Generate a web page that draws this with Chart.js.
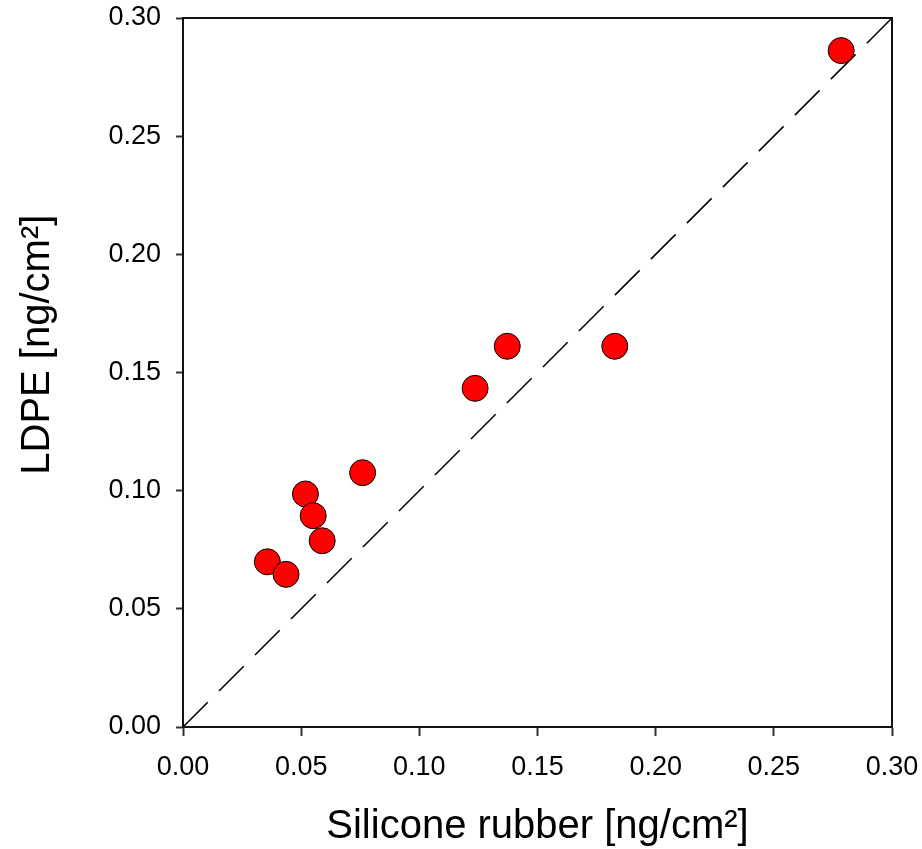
<!DOCTYPE html>
<html>
<head>
<meta charset="utf-8">
<script src="https://cdn.jsdelivr.net/npm/chart.js@4.4.0/dist/chart.umd.min.js"></script>
<style>
  html, body { margin: 0; padding: 0; background: #fff; }
  #wrap { width: 922px; height: 849px; }
</style>
</head>
<body>
<div id="wrap"><canvas id="scatterChart" width="922" height="849"></canvas></div>
<script>
// Data
const siliconeRubber = [0.2785, 0.1372, 0.1827, 0.1236, 0.0760, 0.0518, 0.0551, 0.0589, 0.0357, 0.0436];
const ldpe = [0.2862, 0.1611, 0.1611, 0.1433, 0.1076, 0.0986, 0.0894, 0.0788, 0.0699, 0.0646];

// 1:1 reference line
const lineX = [0, 0.30];
const lineY = [0, 0.30];

// Axis range and ticks
const axisMin = 0;
const axisMax = 0.30;
const tickStep = 0.05;

const FONT = "'Liberation Sans', Arial, sans-serif";

// Draws the box round the plot area (top and right sides)
const framePlugin = {
    id: 'frame',
    afterDraw(chart) {
        const { ctx, chartArea } = chart;
        ctx.save();
        ctx.strokeStyle = '#111';
        ctx.lineWidth = 2;
        ctx.strokeRect(chartArea.left, chartArea.top,
            chartArea.right - chartArea.left, chartArea.bottom - chartArea.top);
        ctx.restore();
    }
};

const ctx = document.getElementById('scatterChart').getContext('2d');
new Chart(ctx, {
    type: 'scatter',
    data: {
        datasets: [
            {
                label: 'Samples',
                data: siliconeRubber.map((x, i) => ({ x: x, y: ldpe[i] })),
                backgroundColor: '#ff0000',
                borderColor: '#000',
                borderWidth: 1,
                pointRadius: 13,
                pointHoverRadius: 13
            },
            {
                type: 'line',
                label: '1:1',
                data: lineX.map((x, i) => ({ x: x, y: lineY[i] })),
                borderColor: '#000',
                borderWidth: 1.5,
                borderDash: [35, 15.9],
                pointRadius: 0,
                fill: false
            }
        ]
    },
    options: {
        responsive: false,
        animation: false,
        layout: { padding: { top: 18, right: 30, left: 0, bottom: 0 } },
        plugins: {
            legend: { display: false },
            tooltip: { enabled: false }
        },
        scales: {
            x: {
                type: 'linear',
                min: axisMin,
                max: axisMax,
                afterFit: (scale) => {
                    scale.height = 122;
                    scale.paddingLeft = 0;
                    scale.paddingRight = 0;
                },
                ticks: {
                    stepSize: tickStep,
                    padding: 15,
                    color: '#000',
                    font: { family: FONT, size: 27 },
                    callback: (v) => v.toFixed(2)
                },
                grid: {
                    drawOnChartArea: false,
                    drawTicks: true,
                    tickLength: 9,
                    tickWidth: 2,
                    tickColor: '#333'
                },
                border: { display: true, color: '#111', width: 2 },
                title: {
                    display: true,
                    text: 'Silicone rubber [ng/cm²]',
                    color: '#000',
                    font: { family: FONT, size: 40, lineHeight: 1 },
                    padding: { top: 0, bottom: 2 }
                }
            },
            y: {
                type: 'linear',
                min: axisMin,
                max: axisMax,
                afterFit: (scale) => {
                    scale.width = 183;
                    scale.paddingTop = 0;
                    scale.paddingBottom = 0;
                },
                ticks: {
                    stepSize: tickStep,
                    padding: 15,
                    color: '#000',
                    font: { family: FONT, size: 27 },
                    callback: (v) => v.toFixed(2)
                },
                grid: {
                    drawOnChartArea: false,
                    drawTicks: true,
                    tickLength: 7,
                    tickWidth: 2,
                    tickColor: '#333'
                },
                border: { display: true, color: '#111', width: 2 },
                title: {
                    display: true,
                    text: '     LDPE [ng/cm²]',
                    color: '#000',
                    font: { family: FONT, size: 40, lineHeight: 1 },
                    padding: { top: 18, bottom: 0 }
                }
            }
        }
    },
    plugins: [framePlugin]
});
</script>
</body>
</html>
